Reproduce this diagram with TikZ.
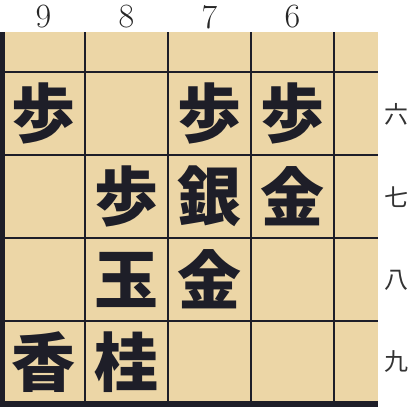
\documentclass[tikz,border=0pt]{standalone}
\usepackage{fontspec}
\usepackage{tikz}
\newfontfamily\koma{Noto Sans CJK JP}
\definecolor{boardcol}{RGB}{236,214,166}
\definecolor{inkcol}{RGB}{30,30,40}
\begin{document}
\begin{tikzpicture}[x=1pt,y=-1pt]
            \tikzstyle{every node}+=[inner sep=0pt]
            \tikzstyle{piece}=[font=\koma\bfseries\fontsize{64}{64}\selectfont, text=inkcol]
            \tikzstyle{filelabel}=[font=\fontsize{34}{34}\selectfont, text=black!85]
            \tikzstyle{ranklabel}=[font=\koma\fontsize{24}{24}\selectfont, text=black!80]
            \useasboundingbox (0,0) rectangle (413,407);
            \fill [boardcol] (0,32) rectangle (378,407);
            \begin{scope}
            \clip (0,32) rectangle (378,407);
            \draw [inkcol, line width=1.8pt] (85,32) -- (85,404);
            \draw [inkcol, line width=1.8pt] (168,32) -- (168,404);
            \draw [inkcol, line width=1.8pt] (251,32) -- (251,404);
            \draw [inkcol, line width=1.8pt] (334,32) -- (334,404);
            \draw [inkcol, line width=1.8pt] (2,72) -- (378,72);
            \draw [inkcol, line width=1.8pt] (2,155) -- (378,155);
            \draw [inkcol, line width=1.8pt] (2,238) -- (378,238);
            \draw [inkcol, line width=1.8pt] (2,321) -- (378,321);
            \end{scope}
            \fill [inkcol] (0,32) rectangle (5,407);
            \fill [inkcol] (0,401) rectangle (378,407);
            % file numbers
            \node [filelabel] (f9) at (43.5,17) {9};
            \node [filelabel] (f8) at (126.5,17) {8};
            \node [filelabel] (f7) at (209.5,17) {7};
            \node [filelabel] (f6) at (292.5,17) {6};
            % rank numbers
            \node [ranklabel] (r6) at (396,114) {六};
            \node [ranklabel] (r7) at (396,197) {七};
            \node [ranklabel] (r8) at (396,280) {八};
            \node [ranklabel] (r9) at (396,362) {九};
            % pieces
            \node [piece] (p96) at (43.5,113.5) {歩};
            \node [piece] (p76) at (209.5,113.5) {歩};
            \node [piece] (p66) at (292.5,113.5) {歩};
            \node [piece] (p87) at (126.5,196.5) {歩};
            \node [piece] (p77) at (209.5,196.5) {銀};
            \node [piece] (p67) at (292.5,196.5) {金};
            \node [piece] (p88) at (126.5,279.5) {玉};
            \node [piece] (p78) at (209.5,279.5) {金};
            \node [piece] (p99) at (43.5,362) {香};
            \node [piece] (p89) at (126.5,362) {桂};
        \end{tikzpicture}
\end{document}
